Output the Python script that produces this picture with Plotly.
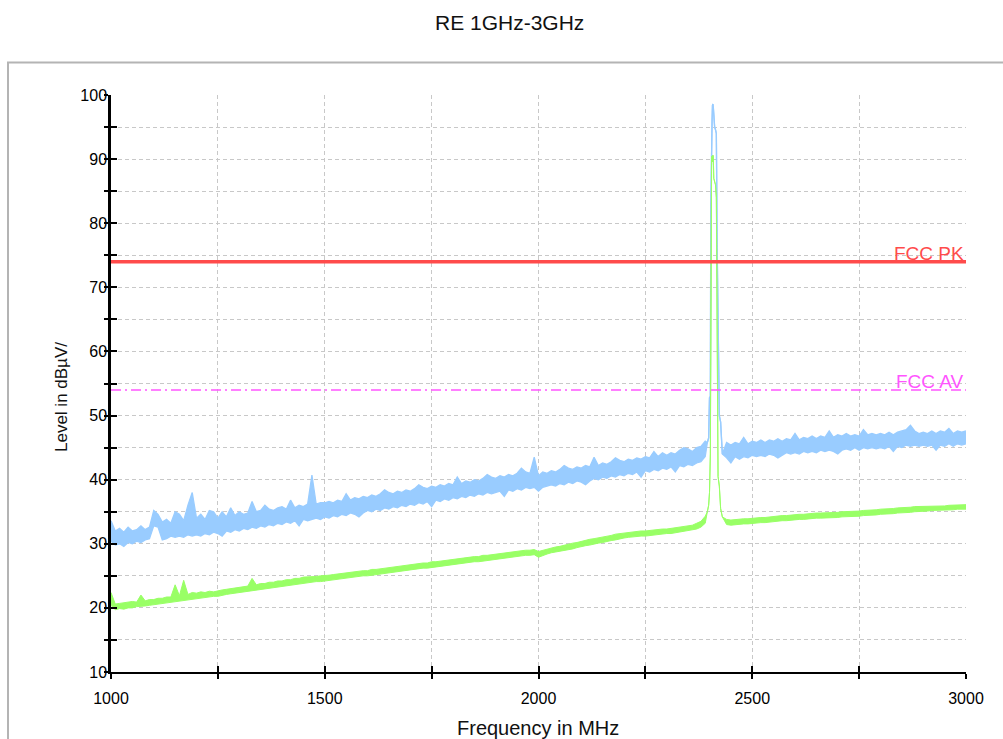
import plotly.graph_objects as go

# ---------------- data ----------------
freq_sweep = [
    1000, 1010, 1020, 1030, 1040, 1050, 1060, 1070, 1080, 1090,
    1100, 1110, 1120, 1130, 1140, 1150, 1160, 1170, 1180, 1190,
    1200, 1210, 1220, 1230, 1240, 1250, 1260, 1270, 1280, 1290,
    1300, 1310, 1320, 1330, 1340, 1350, 1360, 1370, 1380, 1390,
    1400, 1410, 1420, 1430, 1440, 1450, 1460, 1470, 1480, 1490,
    1500, 1510, 1520, 1530, 1540, 1550, 1560, 1570, 1580, 1590,
    1600, 1610, 1620, 1630, 1640, 1650, 1660, 1670, 1680, 1690,
    1700, 1710, 1720, 1730, 1740, 1750, 1760, 1770, 1780, 1790,
    1800, 1810, 1820, 1830, 1840, 1850, 1860, 1870, 1880, 1890,
    1900, 1910, 1920, 1930, 1940, 1950, 1960, 1970, 1980, 1990,
    2000, 2010, 2020, 2030, 2040, 2050, 2060, 2070, 2080, 2090,
    2100, 2110, 2120, 2130, 2140, 2150, 2160, 2170, 2180, 2190,
    2200, 2210, 2220, 2230, 2240, 2250, 2260, 2270, 2280, 2290,
    2300, 2310, 2320, 2330, 2340, 2350, 2360, 2370, 2380, 2390,
]
freq_peak = [2395, 2398, 2400, 2402, 2403, 2404, 2405, 2406, 2407, 2408,
             2409, 2410, 2412, 2414, 2416, 2418, 2419, 2420, 2423, 2426, 2430]
freq_tail = [
    2440, 2450, 2460, 2470, 2480, 2490, 2500, 2510, 2520, 2530,
    2540, 2550, 2560, 2570, 2580, 2590, 2600, 2610, 2620, 2630,
    2640, 2650, 2660, 2670, 2680, 2690, 2700, 2710, 2720, 2730,
    2740, 2750, 2760, 2770, 2780, 2790, 2800, 2810, 2820, 2830,
    2840, 2850, 2860, 2870, 2880, 2890, 2900, 2910, 2920, 2930,
    2940, 2950, 2960, 2970, 2980, 2990, 3000,
]

# Peak detector trace (dBµV): lower / upper edge of the noisy band
pk_sweep_lo = [
    30.4, 29.8, 30.0, 29.6, 30.2, 30.0, 30.4, 30.2, 30.6, 30.8,
    32.8, 32.6, 30.6, 30.8, 31.2, 31.0, 31.2, 31.0, 31.4, 31.2,
    31.4, 31.2, 31.6, 31.4, 31.8, 31.6, 31.2, 32.0, 31.8, 32.2,
    32.0, 32.4, 32.2, 32.6, 32.4, 32.8, 32.6, 33.0, 32.8, 33.2,
    33.0, 33.4, 33.2, 33.6, 32.8, 33.8, 33.6, 33.8, 34.0, 33.8,
    34.2, 34.0, 34.4, 34.2, 34.6, 34.4, 34.8, 34.6, 34.2, 34.8,
    35.2, 35.0, 35.4, 35.2, 35.6, 35.4, 35.8, 35.6, 36.0, 35.8,
    36.2, 36.0, 36.4, 36.2, 36.6, 35.8, 36.8, 36.6, 37.0, 36.8,
    37.2, 37.0, 37.4, 37.2, 37.6, 37.4, 37.8, 37.6, 38.0, 37.8,
    38.0, 38.2, 37.4, 38.4, 38.2, 38.6, 38.4, 38.8, 38.6, 38.8,
    38.2, 38.8, 39.0, 39.2, 39.0, 39.4, 39.2, 39.6, 39.4, 39.8,
    39.6, 39.2, 39.8, 40.2, 40.0, 40.4, 40.2, 40.6, 40.4, 40.8,
    40.6, 41.0, 40.8, 41.2, 40.4, 41.4, 41.2, 41.6, 41.4, 41.8,
    41.6, 42.0, 41.2, 42.2, 42.0, 42.4, 42.2, 42.6, 42.8, 43.6,
]
pk_sweep_hi = [
    33.6, 32.0, 32.4, 31.8, 32.6, 32.0, 32.2, 32.8, 32.2, 32.6,
    35.2, 34.6, 33.4, 33.8, 33.2, 35.0, 34.6, 33.6, 36.0, 38.0,
    34.0, 34.6, 33.8, 35.2, 35.0, 34.0, 35.0, 34.2, 35.6, 34.4,
    35.0, 34.6, 34.8, 36.6, 35.0, 35.2, 36.0, 35.4, 35.2, 35.6,
    35.8, 35.4, 36.8, 35.6, 36.0, 35.8, 36.2, 40.7, 36.2, 36.4,
    36.4, 36.6, 36.4, 36.8, 36.6, 37.8, 36.8, 37.2, 37.0, 37.4,
    37.2, 37.6, 37.4, 37.8, 38.4, 38.0, 37.8, 38.2, 38.0, 38.4,
    38.2, 38.6, 39.2, 38.8, 38.6, 39.0, 38.8, 39.2, 39.0, 39.4,
    39.2, 40.4, 39.4, 39.8, 39.6, 40.0, 39.8, 40.2, 40.8, 40.4,
    40.2, 40.6, 40.4, 40.8, 40.6, 41.0, 41.8, 41.2, 41.0, 43.5,
    40.6, 41.2, 41.0, 41.4, 41.2, 41.6, 42.2, 41.8, 41.6, 42.0,
    41.8, 42.2, 42.0, 43.5, 42.2, 42.6, 42.4, 42.8, 43.4, 43.0,
    42.8, 43.2, 43.0, 43.4, 43.2, 43.6, 43.4, 44.4, 43.6, 44.2,
    43.8, 44.2, 44.0, 44.6, 45.0, 44.8, 44.4, 45.0, 45.2, 46.0,
]
pk_peak = [45.8, 46.5, 52.8, 53.0, 82.0, 90.5, 93.0, 96.0, 98.4, 98.6,
           98.0, 96.5, 95.0, 94.6, 94.0, 76.0, 72.0, 62.0, 50.0, 49.0, 44.0]
pk_tail_lo = [
    43.4, 42.6, 43.6, 43.2, 43.6, 43.4, 43.8, 43.6, 43.8, 43.6,
    44.0, 43.8, 43.4, 43.8, 44.2, 44.0, 44.2, 44.0, 44.4, 44.2,
    44.4, 44.2, 44.6, 44.4, 44.6, 44.4, 44.0, 44.6, 44.8, 44.6,
    45.0, 44.6, 45.0, 44.8, 45.0, 44.8, 45.0, 44.8, 45.2, 44.4,
    45.2, 45.0, 45.4, 45.2, 45.4, 45.2, 45.4, 45.2, 45.4, 44.6,
    45.4, 45.2, 45.6, 45.2, 45.6, 45.4, 45.6,
]
pk_tail_hi = [
    45.8, 45.4, 45.8, 45.6, 46.6, 45.6, 46.0, 45.8, 46.2, 45.8,
    46.2, 46.0, 46.4, 46.0, 46.4, 46.2, 47.2, 46.2, 46.6, 46.4,
    46.8, 46.4, 46.8, 46.6, 47.6, 46.6, 47.0, 46.8, 47.2, 46.8,
    47.0, 46.8, 47.8, 47.0, 47.2, 47.0, 47.2, 47.0, 47.4, 47.0,
    47.4, 47.6, 47.8, 48.5, 47.6, 47.2, 47.4, 47.2, 47.6, 47.2,
    47.6, 47.4, 48.0, 47.2, 47.6, 47.4, 47.6,
]

# Average detector trace (dBµV): lower / upper edge of the band
av_sweep_lo = [
    20.4, 19.7, 19.9, 19.8, 20.0, 20.0, 20.2, 20.2, 20.3, 20.4,
    20.5, 20.6, 20.7, 20.8, 20.9, 21.0, 21.1, 21.1, 21.3, 21.4,
    21.4, 21.5, 21.6, 21.7, 21.8, 21.8, 22.0, 22.1, 22.2, 22.3,
    22.4, 22.5, 22.6, 22.6, 22.8, 22.9, 23.0, 23.1, 23.2, 23.3,
    23.4, 23.5, 23.6, 23.7, 23.8, 23.9, 24.0, 24.0, 24.1, 24.1,
    24.2, 24.3, 24.4, 24.5, 24.5, 24.6, 24.7, 24.8, 24.9, 25.0,
    25.0, 25.1, 25.2, 25.3, 25.4, 25.5, 25.6, 25.6, 25.7, 25.8,
    25.9, 26.0, 26.1, 26.2, 26.2, 26.3, 26.4, 26.5, 26.6, 26.7,
    26.7, 26.8, 26.9, 27.0, 27.1, 27.2, 27.2, 27.3, 27.4, 27.5,
    27.6, 27.7, 27.7, 27.8, 27.9, 28.0, 28.1, 28.2, 28.2, 28.3,
    27.9, 28.2, 28.4, 28.6, 28.7, 28.8, 29.0, 29.1, 29.2, 29.4,
    29.6, 29.7, 29.8, 30.0, 30.1, 30.2, 30.4, 30.5, 30.6, 30.8,
    30.9, 31.0, 31.1, 31.1, 31.2, 31.2, 31.3, 31.4, 31.4, 31.5,
    31.6, 31.6, 31.7, 31.8, 31.9, 32.0, 32.1, 32.3, 32.6, 33.2,
]
av_sweep_hi = [
    22.4, 20.6, 20.7, 20.8, 20.8, 21.0, 20.9, 22.0, 21.1, 21.3,
    21.3, 21.5, 21.5, 21.7, 21.7, 23.6, 21.9, 24.3, 22.1, 22.4,
    22.3, 22.5, 22.4, 22.6, 22.5, 22.7, 22.8, 22.9, 23.0, 23.2,
    23.2, 23.4, 23.4, 24.6, 23.6, 23.8, 23.8, 24.0, 24.0, 24.2,
    24.2, 24.4, 24.4, 24.6, 24.6, 24.8, 24.8, 24.9, 24.9, 25.0,
    25.0, 25.1, 25.2, 25.3, 25.3, 25.5, 25.5, 25.6, 25.7, 25.8,
    25.8, 26.0, 26.0, 26.1, 26.2, 26.3, 26.3, 26.5, 26.5, 26.6,
    26.7, 26.8, 26.9, 27.0, 27.0, 27.2, 27.2, 27.3, 27.4, 27.5,
    27.5, 27.7, 27.7, 27.8, 27.9, 28.0, 28.0, 28.2, 28.2, 28.3,
    28.3, 28.5, 28.5, 28.6, 28.7, 28.8, 28.9, 29.0, 29.0, 29.1,
    28.8, 29.0, 29.2, 29.4, 29.5, 29.6, 29.8, 29.9, 30.1, 30.2,
    30.4, 30.5, 30.7, 30.8, 30.9, 31.1, 31.2, 31.3, 31.5, 31.6,
    31.7, 31.8, 31.9, 31.9, 32.0, 32.0, 32.1, 32.1, 32.2, 32.3,
    32.3, 32.4, 32.5, 32.6, 32.7, 32.8, 32.9, 33.2, 33.5, 34.3,
]
av_peak = [35.0, 36.0, 38.0, 44.0, 60.0, 88.0, 90.4, 90.0, 89.6, 90.6,
           90.2, 87.0, 86.2, 86.0, 84.0, 60.0, 45.0, 40.5, 39.0, 35.5, 34.2]
av_tail_lo = [
    33.0, 32.9, 33.0, 33.0, 33.1, 33.1, 33.2, 33.2, 33.3, 33.3,
    33.4, 33.4, 33.5, 33.6, 33.6, 33.7, 33.7, 33.8, 33.8, 33.9,
    33.9, 34.0, 34.0, 34.0, 34.1, 34.1, 34.1, 34.2, 34.2, 34.3,
    34.3, 34.3, 34.4, 34.4, 34.5, 34.5, 34.6, 34.6, 34.7, 34.7,
    34.8, 34.8, 34.9, 34.9, 35.0, 35.0, 35.1, 35.1, 35.2, 35.2,
    35.2, 35.2, 35.3, 35.3, 35.4, 35.4, 35.4,
]
av_tail_hi = [
    33.8, 33.7, 33.8, 33.8, 33.9, 33.9, 34.0, 34.0, 34.1, 34.1,
    34.2, 34.2, 34.3, 34.4, 34.4, 34.5, 34.5, 34.6, 34.6, 34.7,
    34.7, 34.8, 34.8, 34.8, 34.9, 34.9, 34.9, 35.0, 35.0, 35.1,
    35.1, 35.1, 35.2, 35.2, 35.3, 35.3, 35.4, 35.4, 35.5, 35.5,
    35.6, 35.6, 35.7, 35.7, 35.8, 35.8, 35.9, 35.9, 35.9, 35.9,
    35.9, 35.9, 36.0, 36.0, 36.1, 36.1, 36.1,
]

# Limit lines
limit_freq = [1000, 3000]
fcc_pk = [74, 74]
fcc_av = [54, 54]

# Axis ticks
x_tickvals = [1000, 1250, 1500, 1750, 2000, 2250, 2500, 2750, 3000]
x_ticktext = ["1000", "", "1500", "", "2000", "", "2500", "", "3000"]
y_tickvals = [10, 15, 20, 25, 30, 35, 40, 45, 50, 55, 60, 65, 70, 75, 80, 85, 90, 95, 100]
y_ticktext = ["10", "", "20", "", "30", "", "40", "", "50", "", "60", "", "70", "", "80", "", "90", "", "100"]

freq = freq_sweep + freq_peak + freq_tail
pk_lo = pk_sweep_lo + pk_peak + pk_tail_lo
pk_hi = pk_sweep_hi + pk_peak + pk_tail_hi
av_lo = av_sweep_lo + av_peak + av_tail_lo
av_hi = av_sweep_hi + av_peak + av_tail_hi

# ---------------- figure ----------------
FONT = "Liberation Sans, Arial, sans-serif"
BLUE = "#99ccff"
GREEN = "#99ff66"
fig = go.Figure()

fig.add_trace(go.Scatter(x=freq, y=pk_lo, mode="lines",
                         line=dict(color=BLUE, width=1.3), showlegend=False))
fig.add_trace(go.Scatter(x=freq, y=pk_hi, mode="lines", fill="tonexty", fillcolor=BLUE,
                         line=dict(color=BLUE, width=1.3), showlegend=False))
fig.add_trace(go.Scatter(x=freq, y=av_lo, mode="lines",
                         line=dict(color=GREEN, width=1.0), showlegend=False))
fig.add_trace(go.Scatter(x=freq, y=av_hi, mode="lines", fill="tonexty", fillcolor=GREEN,
                         line=dict(color=GREEN, width=1.0), showlegend=False))
fig.add_trace(go.Scatter(x=limit_freq, y=fcc_av, mode="lines", xaxis="x2", yaxis="y2",
                         line=dict(color="#ff55ff", width=1.5, dash="10px,4px,2px,4px"),
                         showlegend=False, hoverinfo="skip"))
fig.add_trace(go.Scatter(x=limit_freq, y=fcc_pk, mode="lines", xaxis="x2", yaxis="y2",
                         line=dict(color="#ff4b4b", width=3.5),
                         showlegend=False, hoverinfo="skip"))

common_x = dict(range=[1000, 3000], tickmode="array", tickvals=x_tickvals,
                zeroline=False, tickcolor="black", tickwidth=2)
common_y = dict(range=[10, 100], tickmode="array", tickvals=y_tickvals,
                zeroline=False, tickcolor="black", tickwidth=2)

fig.update_layout(
    width=1003, height=739,
    margin=dict(l=111, r=37, t=95, b=67),
    paper_bgcolor="white", plot_bgcolor="white",
    font=dict(family=FONT, color="black", size=16),
    xaxis=dict(**common_x, ticktext=x_ticktext, ticks="outside", ticklen=5,
               showline=True, linecolor="black", linewidth=2,
               showgrid=True, gridcolor="#c8c8c8", gridwidth=1, griddash="4px,3px",
               tickfont=dict(size=16, family=FONT, color="black"),
               ticklabelstandoff=6),
    yaxis=dict(**common_y, ticktext=y_ticktext, ticks="outside", ticklen=4,
               showline=True, linecolor="black", linewidth=2.5,
               showgrid=True, gridcolor="#c8c8c8", gridwidth=1, griddash="4px,3px",
               tickfont=dict(size=16, family=FONT, color="black"),
               ticklabelstandoff=-6),
    xaxis2=dict(**common_x, overlaying="x", anchor="y2", side="bottom",
                ticks="inside", ticklen=6, showticklabels=False,
                showgrid=False, showline=False),
    yaxis2=dict(**common_y, overlaying="y", anchor="x2", side="left",
                ticks="inside", ticklen=6, showticklabels=False,
                showgrid=False, showline=False),
    shapes=[dict(type="rect", xref="paper", yref="paper",
                 x0=(8 - 111) / 855, x1=(1012 - 111) / 855,
                 y0=(672 - 760) / 577, y1=(672 - 62.5) / 577,
                 line=dict(color="#b4b4b4", width=2), fillcolor="rgba(0,0,0,0)",
                 layer="below")],
    annotations=[
        dict(text="RE 1GHz-3GHz", xref="paper", yref="paper",
             x=(509 - 111) / 855, y=(672 - 23) / 577, xanchor="center", yanchor="middle",
             showarrow=False, font=dict(size=21, family=FONT, color="#111")),
        dict(text="Frequency in MHz", xref="paper", yref="paper",
             x=(538 - 111) / 855, y=(672 - 728) / 577, xanchor="center", yanchor="middle",
             showarrow=False, font=dict(size=20, family=FONT, color="#111")),
        dict(text="Level in dBµV/", xref="paper", yref="paper", textangle=-90,
             x=(61 - 111) / 855, y=(672 - 397) / 577, xanchor="center", yanchor="middle",
             showarrow=False, font=dict(size=17, family=FONT, color="#111")),
        dict(text="FCC PK", xref="x", yref="y", x=3000, y=74,
             xanchor="right", yanchor="bottom", yshift=-4, showarrow=False,
             font=dict(size=19, family=FONT, color="#ff4b4b")),
        dict(text="FCC AV", xref="x", yref="y", x=3000, y=54,
             xanchor="right", yanchor="bottom", yshift=-4, showarrow=False,
             font=dict(size=19, family=FONT, color="#ff55ff")),
    ],
)

fig.write_html("out.html", config={"displayModeBar": False},
               post_script="document.body.style.margin='0';document.body.style.overflow='hidden';")
